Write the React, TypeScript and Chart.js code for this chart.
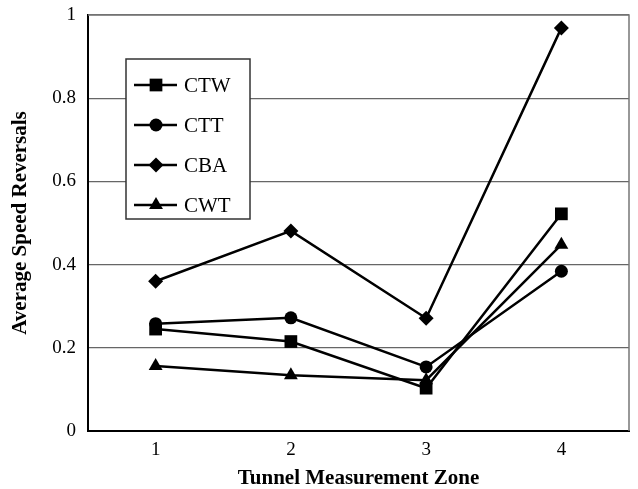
import React, { useEffect, useRef } from "react";
import { Chart, registerables } from "chart.js";
import { drawPoint } from "chart.js/helpers";

Chart.register(...registerables);

const zones = ["1", "2", "3", "4"];
const ctw = [0.245, 0.215, 0.103, 0.522];
const ctt = [0.258, 0.272, 0.154, 0.384];
const cba = [0.36, 0.481, 0.271, 0.969];
const cwt = [0.156, 0.134, 0.122, 0.448];
const yTicks = [0, 0.2, 0.4, 0.6, 0.8, 1];

const FONT = "'Liberation Serif', 'Times New Roman', serif";

const frameLegend = {
  id: "frameLegend",
  afterDraw(chart: any) {
    const { ctx, chartArea } = chart;
    ctx.save();
    ctx.strokeStyle = "#777";
    ctx.lineWidth = 1.5;
    ctx.beginPath();
    ctx.moveTo(chartArea.left, chartArea.top);
    ctx.lineTo(chartArea.right, chartArea.top);
    ctx.lineTo(chartArea.right, chartArea.bottom);
    ctx.stroke();
    const bx = 126, by = 59, bw = 124, bh = 160;
    ctx.fillStyle = "#fff";
    ctx.fillRect(bx, by, bw, bh);
    ctx.strokeStyle = "#333";
    ctx.lineWidth = 1.5;
    ctx.strokeRect(bx, by, bw, bh);
    chart.data.datasets.forEach((ds: any, i: number) => {
      const y = 85 + i * 40;
      ctx.strokeStyle = "#000";
      ctx.lineWidth = 2.5;
      ctx.beginPath();
      ctx.moveTo(134, y);
      ctx.lineTo(177, y);
      ctx.stroke();
      ctx.fillStyle = "#000";
      drawPoint(ctx, { pointStyle: ds.pointStyle, radius: ds.pointRadius, borderWidth: 0, rotation: 0 }, 156, y);
      ctx.fillStyle = "#000";
      ctx.font = `21px ${FONT}`;
      ctx.textBaseline = "middle";
      ctx.textAlign = "left";
      ctx.fillText(ds.label, 184, y + 1);
    });
    ctx.restore();
  },
};

export default function App() {
  const ref = useRef<HTMLCanvasElement>(null);
  useEffect(() => {
    document.body.style.margin = "0";
    const mk = (label: string, data: number[], pointStyle: string, pointRadius: number) => ({
      label,
      data,
      pointStyle,
      pointRadius,
      pointHoverRadius: pointRadius,
      borderColor: "#000",
      backgroundColor: "#000",
      pointBackgroundColor: "#000",
      pointBorderColor: "#000",
      pointBorderWidth: 0,
      borderWidth: 2.5,
      tension: 0,
    });
    const chart = new Chart(ref.current!, {
      type: "line",
      data: {
        labels: zones,
        datasets: [
          mk("CTW", ctw, "rect", 9),
          mk("CTT", ctt, "circle", 6.5),
          mk("CBA", cba, "rectRot", 7.5),
          mk("CWT", cwt, "triangle", 8),
        ],
      },
      options: {
        animation: false,
        responsive: false,
        devicePixelRatio: 1,
        layout: { padding: { left: 0, right: 6, top: 15, bottom: 0 } },
        plugins: { legend: { display: false }, tooltip: { enabled: false } },
        scales: {
          x: {
            type: "category",
            offset: true,
            grid: { display: false, drawTicks: false },
            border: { display: true, color: "#000", width: 2 },
            ticks: { color: "#000", font: { family: FONT, size: 19 }, padding: 8 },
            title: {
              display: true,
              text: "Tunnel Measurement Zone",
              color: "#000",
              font: { family: FONT, size: 21, weight: "bold", lineHeight: 1 },
              padding: { top: 0, bottom: 0 },
            },
            afterFit: (s: any) => {
              s.height = 58;
              s.paddingLeft = 0;
              s.paddingRight = 0;
            },
          },
          y: {
            min: 0,
            max: 1,
            afterBuildTicks: (s: any) => { s.ticks = yTicks.map((v) => ({ value: v })); },
            grid: { color: "#666", lineWidth: 1.2, drawTicks: false },
            border: { display: true, color: "#000", width: 2 },
            ticks: {
              color: "#000",
              font: { family: FONT, size: 19 },
              padding: 12,
              callback: (v: any) => String(Math.round(Number(v) * 10) / 10),
            },
            title: {
              display: true,
              text: "Average Speed Reversals",
              color: "#000",
              font: { family: FONT, size: 21, weight: "bold", lineHeight: 1 },
              padding: { top: 10, bottom: 0 },
            },
            afterFit: (s: any) => {
              s.width = 88;
              s.paddingTop = 0;
              s.paddingBottom = 0;
            },
          },
        },
      },
      plugins: [frameLegend],
    });
    return () => chart.destroy();
  }, []);
  return (
    <div style={{ width: 638, height: 489, background: "#fff" }}>
      <canvas ref={ref} width={638} height={489} style={{ display: "block" }} />
    </div>
  );
}
